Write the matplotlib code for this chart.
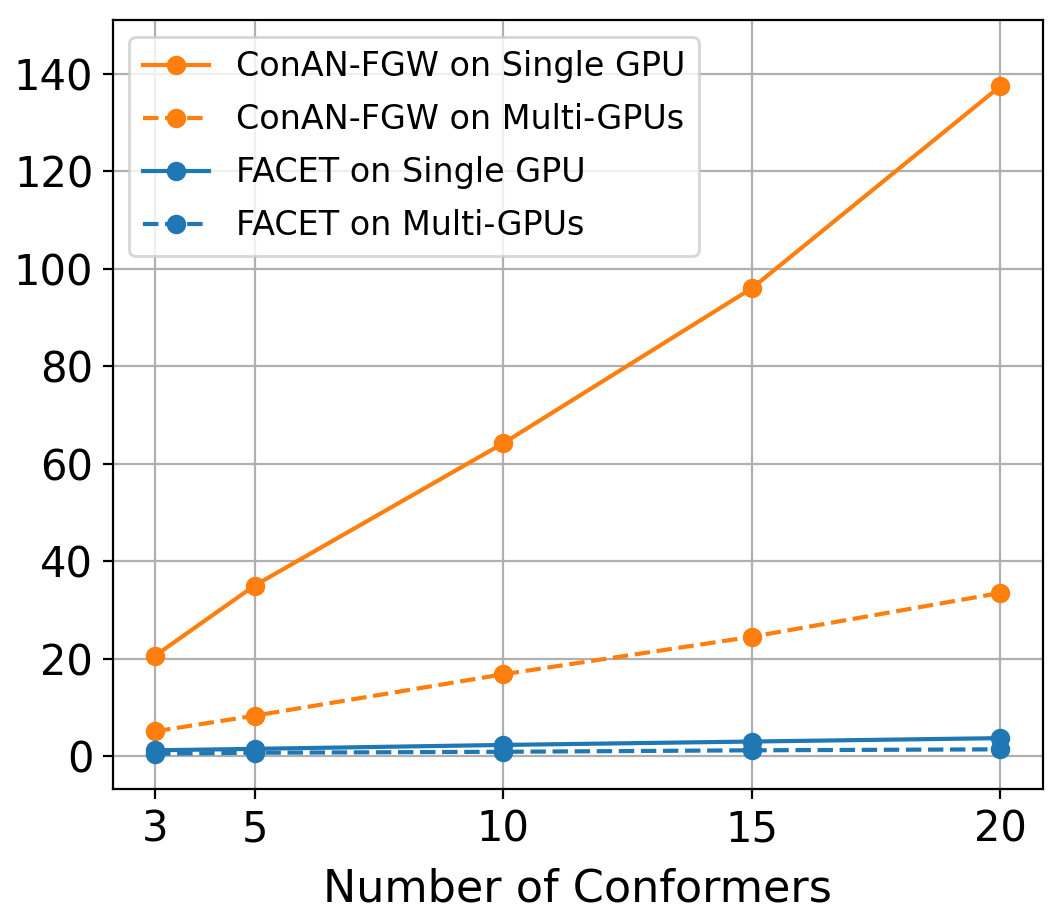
import matplotlib
matplotlib.use("Agg")
import matplotlib.pyplot as plt

conformers = [3, 5, 10, 15, 20]

# runtime values
conan_single = [20.6, 35.0, 64.2, 96.0, 137.5]
conan_multi = [5.1, 8.3, 16.8, 24.5, 33.5]
facet_single = [1.2, 1.5, 2.3, 3.0, 3.7]
facet_multi = [0.5, 0.7, 0.9, 1.2, 1.4]

fig, ax = plt.subplots(figsize=(5.32, 4.605), dpi=200)
fig.subplots_adjust(left=0.106, right=0.980, top=0.978, bottom=0.143)

ax.plot(conformers, conan_single, "-o", color="tab:orange", label="ConAN-FGW on Single GPU")
ax.plot(conformers, conan_multi, "--o", color="tab:orange", label="ConAN-FGW on Multi-GPUs")
ax.plot(conformers, facet_single, "-o", color="tab:blue", label="FACET on Single GPU")
ax.plot(conformers, facet_multi, "--o", color="tab:blue", label="FACET on Multi-GPUs")

ax.set_xticks(conformers)
ax.set_ylim(-6.8, 151)
ax.tick_params(labelsize=15)
ax.set_xlabel("Number of Conformers", fontsize=16, labelpad=6)
ax.grid(True)
ax.legend(loc="upper left", fontsize=12, labelspacing=0.6)

fig.savefig("out.png", dpi=200)
